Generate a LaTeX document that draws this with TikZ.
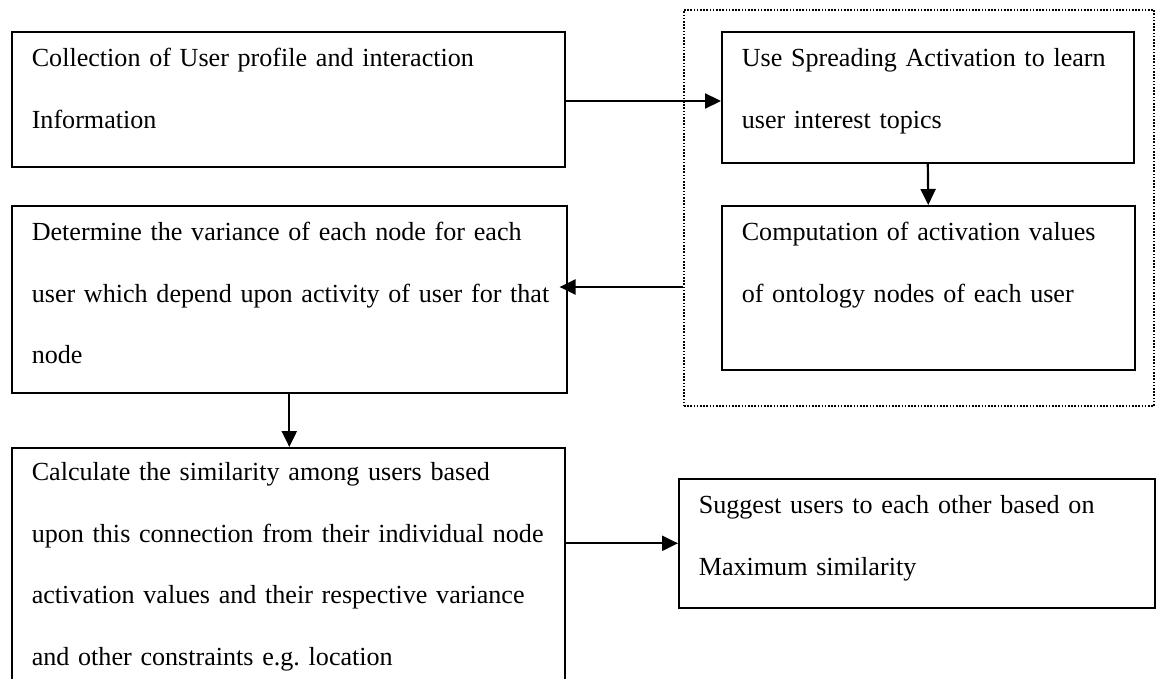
\documentclass[tikz,border=0pt]{standalone}
\usepackage{fontspec}
\setmainfont{Liberation Serif}
\usepackage{tikz}
\usetikzlibrary{shapes, positioning, arrows.meta}

\frenchspacing
\newcommand{\rows}[1]{\begin{tabular}[t]{@{}l@{}}#1\end{tabular}}

\begin{document}
\begin{tikzpicture}[->,>={Triangle[length=16pt,width=15pt]},x=1pt,y=-1pt,
                    line width=2.2pt,
                    main node/.style={rectangle,draw,line width=1.6pt,anchor=north west,
                      inner xsep=20pt,inner ysep=0pt,text height=35pt,align=left,
                      font=\fontsize{26.1pt}{61.5pt}\selectfont},
                    group/.style={rectangle,draw,line width=1.8pt,dash pattern=on 1.6pt off 1.6pt,
                      anchor=north west,inner sep=0pt}]
    \useasboundingbox (0,0) rectangle (1157,679);

      \node[group, minimum width=470pt, minimum height=396pt] (group) at (683,9) {};

      \node[main node, text width=513pt, text depth=100pt] (collect) at (11,31)
        {\rows{Collection of User profile and interaction\\Information}};
      \node[main node, text width=372pt, text depth=96pt] (spread) at (721,31)
        {\rows{Use Spreading Activation to learn\\user interest topics}};
      \node[main node, text width=373pt, text depth=129pt] (compute) at (721,205)
        {\rows{Computation of activation values\\of ontology nodes of each user}};
      \node[main node, text width=515pt, text depth=152pt] (variance) at (11,205)
        {\rows{Determine the variance of each node for each\\user which depend upon activity of user for that\\node}};
      \node[main node, text width=513pt, text height=33pt, text depth=212pt] (similar) at (11,447)
        {\rows{Calculate the similarity among users based\\upon this connection from their individual node\\activation values and their respective variance\\and other constraints e.g. location}};
      \node[main node, text width=436pt, text depth=94pt] (suggest) at (678,478)
        {\rows{Suggest users to each other based on\\Maximum similarity}};

      \draw (collect.east |- 0,101) -- (spread.west |- 0,101);
      \draw (spread.south) -- (compute.north);
      \draw[shorten >=-8pt] (group.west |- 0,287) -- (variance.east |- 0,287);
      \draw (variance.south) -- (variance.south |- similar.north);
      \draw (similar.east |- suggest.west) -- (suggest.west);
\end{tikzpicture}
\end{document}
